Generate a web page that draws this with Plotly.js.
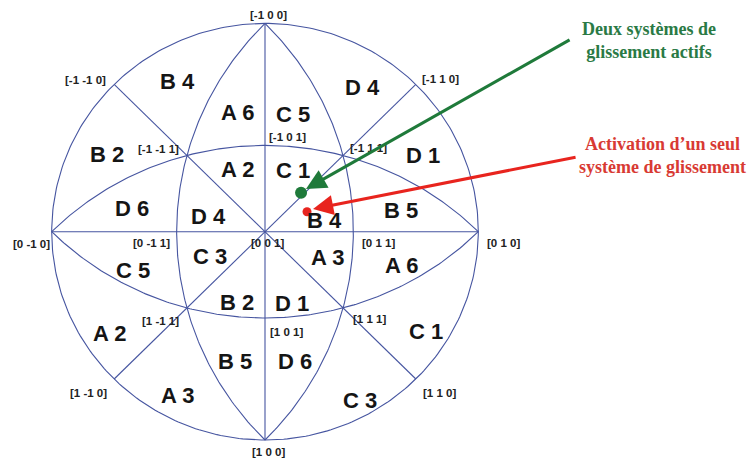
<!DOCTYPE html>
<html>
<head>
<meta charset="utf-8">
<script src="https://cdn.plot.ly/plotly-3.0.1.min.js"></script>
<style>html,body{margin:0;padding:0;background:#fff;}#chart{width:748px;height:459px;}</style>
</head>
<body>
<div id="chart"></div>
<script>
// ---- data ----
// poles of the great circles drawn on the stereogram
const greatCirclePoles = [[0,1,0],[1,0,0],[1,-1,0],[1,1,0],[0,1,1],[0,-1,1],[1,0,1],[-1,0,1]];
// labelled crystal directions
const directions = [[-1,0,0],[-1,-1,0],[-1,1,0],[-1,0,1],[-1,-1,1],[-1,1,1],[0,-1,0],[0,-1,1],[0,0,1],[0,1,1],[0,1,0],[1,-1,1],[1,0,1],[1,1,1],[1,-1,0],[1,1,0],[1,0,0]];
// stereographic triangle names
const regionNames = ["B 4","A 6","C 5","D 4","B 2","A 2","C 1","D 1","D 6","D 4","B 4","B 5","C 5","C 3","A 3","A 6","A 2","B 2","D 1","C 1","A 3","B 5","D 6","C 3"];
// tensile axis orientations (projected coordinates)
const twoSystemsPoint = [0.169, 0.187];
const oneSystemPoint = [0.197, 0.096];

// ---- layout helpers (positions / styles) ----
const regionPos = [[-0.408,0.719],[-0.131,0.570],[0.131,0.565],[0.455,0.690],[-0.741,0.373],[-0.131,0.300],[0.131,0.296],[0.741,0.368],[-0.624,0.109],[-0.267,0.071],[0.281,0.056],[0.638,0.104],[-0.619,-0.184],[-0.258,-0.121],[0.291,-0.126],[0.642,-0.160],[-0.731,-0.488],[-0.131,-0.342],[0.127,-0.347],[0.755,-0.481],[-0.408,-0.784],[-0.141,-0.625],[0.141,-0.625],[0.445,-0.808]];
const dirOffsets = [[3,-8],[-29,-4],[25,-5],[22,-8],[-28,-6],[25,-7],[-20,12],[-25,11],[2,11],[25,11],[25,11],[-26,13],[21,14],[26,11],[-26,14],[24,14],[3,12]];

function proj(d){
  const n = Math.hypot(d[0],d[1],d[2]);
  const a=d[0]/n, b=d[1]/n, c=d[2]/n;
  return [b/(1+c), -a/(1+c)];
}
function cross(p,q){return [p[1]*q[2]-p[2]*q[1], p[2]*q[0]-p[0]*q[2], p[0]*q[1]-p[1]*q[0]];}
function norm(p){const n=Math.hypot(p[0],p[1],p[2]);return [p[0]/n,p[1]/n,p[2]/n];}

const lineColor = '#4655a0';
const traces = [];
// primitive circle
{
  const xs=[], ys=[];
  for(let i=0;i<=360;i++){const t=i*Math.PI/180; const p=proj([Math.cos(t),Math.sin(t),0]); xs.push(p[0]); ys.push(p[1]);}
  traces.push({type:'scatter',mode:'lines',x:xs,y:ys,line:{color:lineColor,width:1.1},hoverinfo:'skip',showlegend:false});
}
greatCirclePoles.forEach(pole=>{
  const n = norm(pole);
  const e1 = norm(cross(n,[0,0,1]));
  let e2 = cross(n,e1); if(e2[2]<0) e2=[-e2[0],-e2[1],-e2[2]]; e2=norm(e2);
  const xs=[], ys=[];
  for(let i=0;i<=180;i++){
    const t=i*Math.PI/180;
    const p=[Math.cos(t)*e1[0]+Math.sin(t)*e2[0], Math.cos(t)*e1[1]+Math.sin(t)*e2[1], Math.max(0,Math.cos(t)*e1[2]+Math.sin(t)*e2[2])];
    const q=proj(p); xs.push(q[0]); ys.push(q[1]);
  }
  traces.push({type:'scatter',mode:'lines',x:xs,y:ys,line:{color:lineColor,width:1.1},hoverinfo:'skip',showlegend:false});
});
// orientation points
traces.push({type:'scatter',mode:'markers',x:[twoSystemsPoint[0]],y:[twoSystemsPoint[1]],marker:{color:'#1f7a3a',size:12},hoverinfo:'skip',showlegend:false});
traces.push({type:'scatter',mode:'markers',x:[oneSystemPoint[0]],y:[oneSystemPoint[1]],marker:{color:'#e8241e',size:9},hoverinfo:'skip',showlegend:false});

const annotations = [];
function fmt(d){return '['+d.join(' ')+']';}
directions.forEach((d,i)=>{
  const p=proj(d);
  annotations.push({x:p[0],y:p[1],xref:'x',yref:'y',text:'<b>'+fmt(d)+'</b>',showarrow:false,xshift:dirOffsets[i][0],yshift:-dirOffsets[i][1],
    font:{family:'Arial, Liberation Sans, sans-serif',size:11.5,color:'#222222'}});
});
regionNames.forEach((t,i)=>{
  annotations.push({x:regionPos[i][0],y:regionPos[i][1],xref:'x',yref:'y',text:'<b>'+t+'</b>',showarrow:false,
    font:{family:'Liberation Sans, Arial, sans-serif',size:22,color:'#151515'}});
});
// arrows
annotations.push({x:0.192,y:0.205,xref:'x',yref:'y',ax:1.435,ay:0.925,axref:'x',ayref:'y',text:'',showarrow:true,arrowhead:2,arrowsize:1.35,arrowwidth:3,arrowcolor:'#1f7a3a'});
annotations.push({x:0.225,y:0.109,xref:'x',yref:'y',ax:1.463,ay:0.359,axref:'x',ayref:'y',text:'',showarrow:true,arrowhead:2,arrowsize:1.35,arrowwidth:3,arrowcolor:'#e8241e'});
// captions
annotations.push({x:649/748,y:1-40/459,xref:'paper',yref:'paper',xanchor:'center',yanchor:'middle',text:'<b>Deux systèmes de<br>glissement actifs</b>',showarrow:false,
  font:{family:'Liberation Serif, Times New Roman, serif',size:18,color:'#2a7a45'}});
annotations.push({x:662/748,y:1-155/459,xref:'paper',yref:'paper',xanchor:'center',yanchor:'middle',text:'<b>Activation d\u2019un seul<br>système de glissement</b>',showarrow:false,
  font:{family:'Liberation Serif, Times New Roman, serif',size:18,color:'#d83a33'}});

const layout = {
  width:748,height:459,margin:{l:0,r:0,t:0,b:0},
  paper_bgcolor:'#ffffff',plot_bgcolor:'#ffffff',
  xaxis:{range:[-1.2424,2.2644],visible:false,fixedrange:true},
  yaxis:{range:[-1.0912,1.1123],visible:false,fixedrange:true},
  annotations:annotations,showlegend:false
};
Plotly.newPlot('chart',traces,layout,{displayModeBar:false,staticPlot:true});
</script>
</body>
</html>
